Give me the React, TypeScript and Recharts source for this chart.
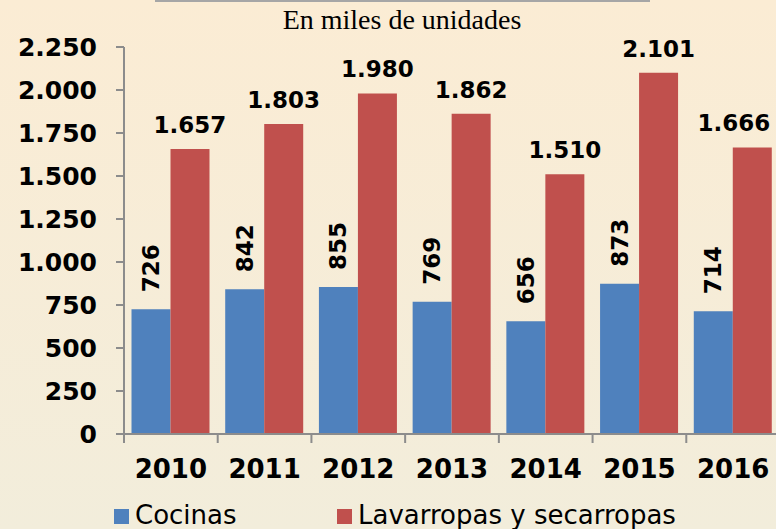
import { Bar, BarChart, LabelList, Legend, XAxis, YAxis } from "recharts";

const years = ["2010", "2011", "2012", "2013", "2014", "2015", "2016"];
const cocinas = [726, 842, 855, 769, 656, 873, 714];
const lavarropas = [1657, 1803, 1980, 1862, 1510, 2101, 1666];
const yTicks = [0, 250, 500, 750, 1000, 1250, 1500, 1750, 2000, 2250];

const data = years.map((year, i) => ({
  year,
  cocinas: cocinas[i],
  lavarropas: lavarropas[i],
}));

const VIEW_W = 776;
const CHART_W = 790;
const Y_AXIS_W = 124;
const MARGIN_RIGHT = 10;
const BAND = (CHART_W - Y_AXIS_W - MARGIN_RIGHT) / years.length;

const fmt = (v: number) => v.toLocaleString("de-DE");

const XTick = (props: any) => {
  const { x, y, payload, index } = props;
  const last = index === years.length - 1;
  return (
    <g>
      <line x1={x - BAND / 2} x2={x - BAND / 2} y1={y} y2={y + 9} stroke="#8c8c8c" strokeWidth={2} />
      {last && (
        <line x1={x + BAND / 2} x2={x + BAND / 2} y1={y} y2={y + 9} stroke="#8c8c8c" strokeWidth={2} />
      )}
      <text
        x={x}
        y={y + 44}
        textAnchor="middle"
        fontSize={26}
        fontWeight="bold"
        fontFamily="DejaVu Sans"
        fill="#000"
      >
        {payload.value}
      </text>
    </g>
  );
};

const RotatedLabel = (props: any) => {
  const { x, y, width, value } = props;
  const cx = x + width / 2;
  const cy = y - 17;
  return (
    <text
      x={cx}
      y={cy}
      transform={`rotate(-90 ${cx} ${cy})`}
      textAnchor="start"
      dominantBaseline="central"
      fontSize={23}
      fontWeight="bold"
      fontFamily="DejaVu Sans"
      fill="#000"
    >
      {fmt(value)}
    </text>
  );
};

// keeps the label inside the visible area (the last bar sits at the edge)
const TopLabel = (props: any) => {
  const { x, y, width, value } = props;
  const half = 38;
  const cx = Math.min(x + width / 2, VIEW_W - half - 4);
  return (
    <text
      x={cx}
      y={y - 16}
      textAnchor="middle"
      fontSize={23}
      fontWeight="bold"
      fontFamily="DejaVu Sans"
      fill="#000"
    >
      {fmt(value)}
    </text>
  );
};

const LegendContent = () => (
  <div style={{ position: "relative", width: VIEW_W, height: 40, fontFamily: "DejaVu Sans", fontSize: 26, color: "#000" }}>
    <div style={{ position: "absolute", left: 114, top: 20, width: 15, height: 15, background: "#4F81BD" }} />
    <div style={{ position: "absolute", left: 135, top: 11, lineHeight: "30px", whiteSpace: "nowrap" }}>Cocinas</div>
    <div style={{ position: "absolute", left: 337, top: 20, width: 15, height: 15, background: "#C0504D" }} />
    <div style={{ position: "absolute", left: 358, top: 11, lineHeight: "30px", whiteSpace: "nowrap" }}>
      Lavarropas y secarropas
    </div>
  </div>
);

export default function App() {
  return (
    <div
      style={{
        position: "absolute",
        left: 0,
        top: 0,
        width: VIEW_W,
        height: 529,
        overflow: "hidden",
        background: "linear-gradient(#fbecd4, #f2eddb)",
      }}
    >
      <div style={{ position: "absolute", left: 155, top: 0, width: 495, height: 2, background: "#a6a6a6" }} />
      <div
        style={{
          position: "absolute",
          left: 0,
          width: 804,
          top: 4,
          textAlign: "center",
          fontFamily: "Liberation Serif",
          fontSize: 28,
          lineHeight: "32px",
          color: "#000",
        }}
      >
        En miles de unidades
      </div>
      <BarChart
        width={CHART_W}
        height={529}
        data={data}
        margin={{ top: 47, right: MARGIN_RIGHT, left: 0, bottom: 0 }}
        barCategoryGap="8%"
        barGap={0}
      >
        <YAxis
          width={Y_AXIS_W}
          domain={[0, 2250]}
          ticks={yTicks}
          interval={0}
          tickFormatter={fmt}
          axisLine={{ stroke: "#8c8c8c", strokeWidth: 2 }}
          tickLine={{ stroke: "#8c8c8c", strokeWidth: 2 }}
          tickSize={8}
          tickMargin={19}
          tick={{ fontSize: 25, fontWeight: "bold", fontFamily: "DejaVu Sans", fill: "#000" }}
        />
        <XAxis
          dataKey="year"
          height={55}
          interval={0}
          axisLine={{ stroke: "#8c8c8c", strokeWidth: 2 }}
          tickLine={false}
          tickSize={0}
          tickMargin={0}
          tick={<XTick />}
        />
        <Legend verticalAlign="bottom" height={40} content={<LegendContent />} wrapperStyle={{ left: 0, bottom: 0 }} />
        <Bar dataKey="cocinas" fill="#4F81BD" isAnimationActive={false}>
          <LabelList dataKey="cocinas" content={<RotatedLabel />} />
        </Bar>
        <Bar dataKey="lavarropas" fill="#C0504D" isAnimationActive={false}>
          <LabelList dataKey="lavarropas" content={<TopLabel />} />
        </Bar>
      </BarChart>
    </div>
  );
}
